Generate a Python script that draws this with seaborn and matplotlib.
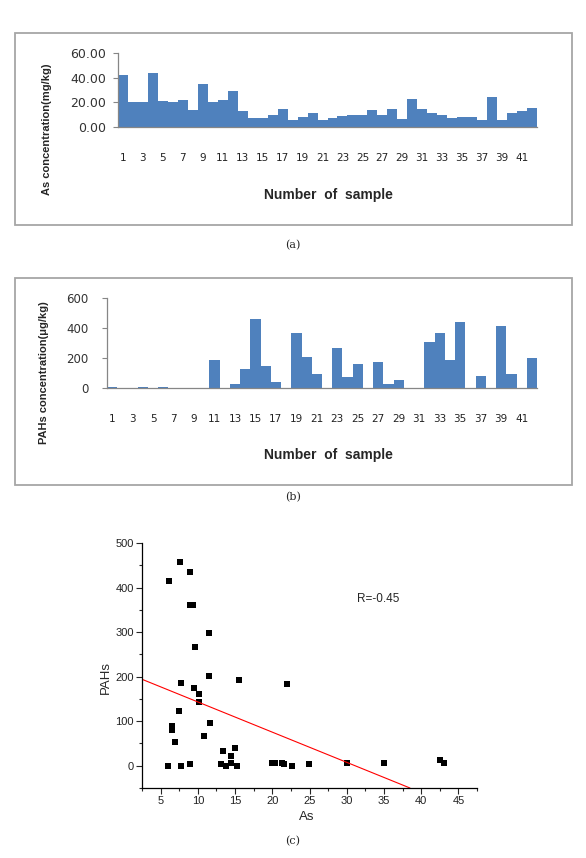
import numpy as np
import pandas as pd
import matplotlib
matplotlib.use('Agg')
import matplotlib.pyplot as plt
from matplotlib.patches import Rectangle
from matplotlib.ticker import MultipleLocator
import seaborn as sns

# Sample numbers 1..42
samples = list(range(1, 43))

# (a) As concentration (mg/kg)
as_conc = [42.0, 20.0, 20.0, 43.5, 21.0, 20.0, 22.0, 13.5, 35.0, 20.0,
           22.0, 29.5, 13.0, 7.5, 7.5, 10.0, 15.0, 5.5, 8.0, 11.0,
           5.5, 7.5, 9.0, 10.0, 10.0, 13.5, 9.5, 15.0, 6.5, 22.5,
           15.0, 11.0, 9.5, 7.5, 8.0, 8.0, 6.0, 24.5, 6.0, 11.0,
           13.0, 15.5]

# (b) PAHs concentration (ug/kg)
pahs_conc = [10, 0, 0, 8, 0, 8, 0, 0, 0, 0,
             184, 0, 29, 124, 460, 144, 40, 0, 364, 204,
             95, 0, 264, 71, 160, 0, 175, 27, 56, 0,
             0, 304, 364, 184, 437, 0, 80, 0, 415, 95,
             0, 202]

# (c) scatter points As vs PAHs
scatter_as = [7.6, 6.1, 9.0, 8.9, 9.3, 11.5, 9.6, 11.5, 15.5, 22.0,
              7.7, 9.5, 10.1, 10.1, 7.5, 6.5, 6.5, 11.7, 10.8, 6.9,
              13.4, 15.0, 14.5, 14.4, 13.1, 13.8, 15.2, 6.0, 7.7, 9.0,
              19.9, 20.3, 21.3, 21.6, 22.6, 24.9, 30.1, 35.0, 42.5, 43.1]
scatter_pahs = [457, 415, 434, 360, 360, 299, 266, 202, 193, 184,
                186, 174, 160, 144, 122, 90, 80, 96, 67, 53,
                34, 40, 22, 7, 3, 0, 0, 0, 0, 4,
                6, 7, 6, 5, 0, 3, 6, 6, 12, 7]

# linear fit shown in (c)
fit_slope = -6.78
fit_intercept = 211.0
r_label = 'R=-0.45'

xtick_labels = [str(s) for s in samples[::2]]

W, H = 586, 858

sns.set_style('ticks')
plt.rcParams['font.family'] = ['DejaVu Sans']

fig = plt.figure(figsize=(W / 100, H / 100), dpi=100)


def fx(x):
    return x / W


def fy(y):
    return 1 - y / H


def px_rect(x0, y0, x1, y1):
    return [fx(x0), fy(y1), (x1 - x0) / W, (y1 - y0) / H]


bar_color = '#4F81BD'
axis_gray = '#868686'

# Frames round the two bar charts
for (x0, y0, x1, y1) in [(15, 33, 572, 225), (15, 278, 572, 485)]:
    fig.patches.append(Rectangle((fx(x0), fy(y1)), (x1 - x0) / W, (y1 - y0) / H,
                                 transform=fig.transFigure, fill=False,
                                 edgecolor='#A6A6A6', linewidth=1.3))

bar_df = pd.DataFrame({'sample': samples, 'As': as_conc, 'PAHs': pahs_conc})


def style_bar_axis(ax, ymax, ystep, fmt, ysize, ypad):
    ax.set_xlim(-0.5, 41.5)
    ax.set_ylim(0, ymax)
    ax.set_yticks(np.arange(0, ymax + 1, ystep))
    ax.set_yticklabels([fmt.format(v) for v in np.arange(0, ymax + 1, ystep)])
    ax.set_xticks(range(0, 42, 2))
    ax.set_xticklabels(xtick_labels)
    ax.tick_params(axis='x', length=0, pad=19, labelsize=7.5, labelcolor='#222222')
    ax.tick_params(axis='y', direction='out', length=3.5, width=0.8, color=axis_gray,
                   pad=ypad, labelsize=ysize, labelcolor='#333333')
    for s in ['top', 'right']:
        ax.spines[s].set_visible(False)
    for s in ['left', 'bottom']:
        ax.spines[s].set_color(axis_gray)
        ax.spines[s].set_linewidth(0.9)
    ax.set_xlabel('')
    ax.set_ylabel('')


# (a) As concentration
ax1 = fig.add_axes(px_rect(118, 53, 537, 127))
sns.barplot(data=bar_df, x='sample', y='As', ax=ax1, color=bar_color,
            saturation=1, width=1.0, linewidth=0, errorbar=None)
style_bar_axis(ax1, 60, 20, '{:.2f}', 9, 5)

fig.text(fx(47), fy(129), 'As concentration(mg/kg)', rotation=90, ha='center',
         va='center', fontsize=8, fontweight='bold', family='Liberation Sans')
fig.text(fx(328), fy(195), 'Number  of  sample', ha='center', va='center',
         fontsize=10, fontweight='bold', family='Liberation Sans')
fig.text(fx(293), fy(245), '(a)', ha='center', va='center', fontsize=8,
         family='DejaVu Serif')

# (b) PAHs concentration
ax2 = fig.add_axes(px_rect(107, 298, 537, 388))
sns.barplot(data=bar_df, x='sample', y='PAHs', ax=ax2, color=bar_color,
            saturation=1, width=1.0, linewidth=0, errorbar=None)
style_bar_axis(ax2, 600, 200, '{:.0f}', 8.5, 10)

fig.text(fx(44), fy(373), 'PAHs concentration(\u03bcg/kg)', rotation=90, ha='center',
         va='center', fontsize=8, fontweight='bold', family='Liberation Sans')
fig.text(fx(328), fy(455), 'Number  of  sample', ha='center', va='center',
         fontsize=10, fontweight='bold', family='Liberation Sans')
fig.text(fx(293), fy(497), '(b)', ha='center', va='center', fontsize=8,
         family='DejaVu Serif')

# (c) scatter As vs PAHs
ax3 = fig.add_axes(px_rect(142, 543, 477, 788))
sc_df = pd.DataFrame({'As': scatter_as, 'PAHs': scatter_pahs})
sns.scatterplot(data=sc_df, x='As', y='PAHs', ax=ax3, marker='s', color='black',
                s=16, linewidth=0)
ax3.axline((0, fit_intercept), slope=fit_slope, color='red', linewidth=0.8)
ax3.set_xlim(2.5, 47.5)
ax3.set_ylim(-50, 500)
ax3.xaxis.set_major_locator(MultipleLocator(5))
ax3.xaxis.set_minor_locator(MultipleLocator(2.5))
ax3.yaxis.set_major_locator(MultipleLocator(100))
ax3.yaxis.set_minor_locator(MultipleLocator(50))
ax3.set_yticks(range(0, 501, 100))
ax3.tick_params(which='major', direction='out', length=4, width=0.8, labelsize=8,
                pad=2, labelcolor='#222222')
ax3.tick_params(which='minor', direction='out', length=2, width=0.8)
for lab in ax3.get_xticklabels() + ax3.get_yticklabels():
    lab.set_family('Liberation Sans')
for s in ['top', 'right']:
    ax3.spines[s].set_visible(False)
for s in ['left', 'bottom']:
    ax3.spines[s].set_linewidth(0.9)
    ax3.spines[s].set_color('black')
ax3.set_xlabel('')
ax3.set_ylabel('')
ax3.text(31.4, 374, r_label, ha='left', va='center', fontsize=8.5,
         family='Liberation Sans')

fig.text(fx(106), fy(677), 'PAHs', rotation=90, ha='center', va='center',
         fontsize=9.5, family='Liberation Sans')
fig.text(fx(307), fy(817), 'As', ha='center', va='center', fontsize=9.5,
         family='Liberation Sans')
fig.text(fx(293), fy(841), '(c)', ha='center', va='center', fontsize=8,
         family='DejaVu Serif')

fig.savefig('out.png', dpi=100)
